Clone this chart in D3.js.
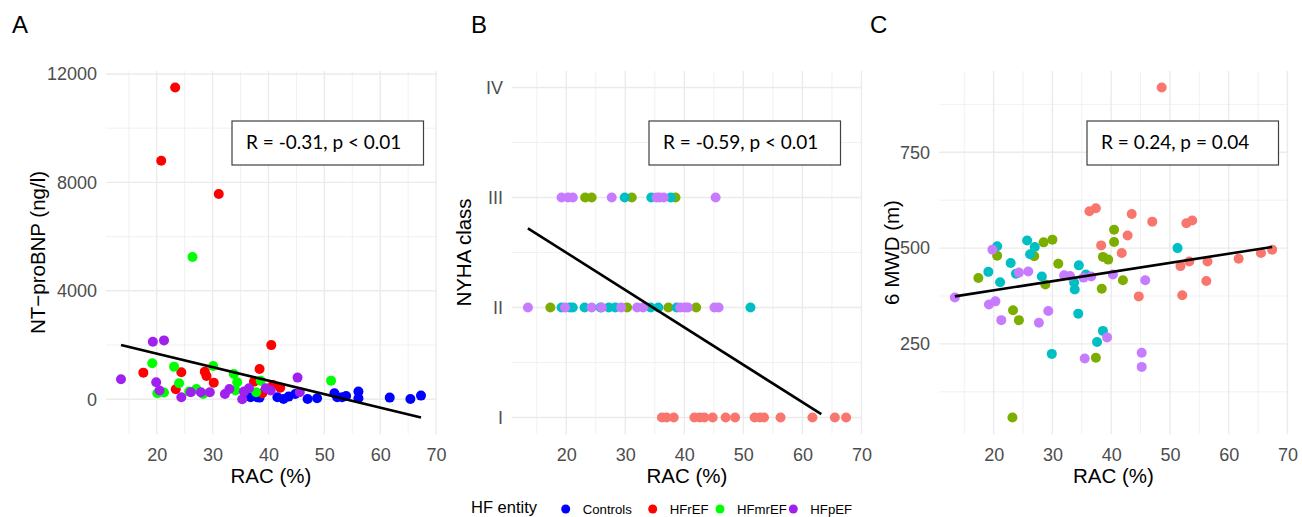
<!DOCTYPE html>
<html>
<head>
<meta charset="utf-8">
<script src="https://cdn.jsdelivr.net/npm/d3@7"></script>
<style>
  body { margin: 0; background: #fff; }
  svg { display: block; }
</style>
</head>
<body>
<div id="vis"></div>
<script>
// frame size
const WIDTH = 1302;
const HEIGHT = 517;

// legend / group names
const GROUPS = ["Controls", "HFrEF", "HFmrEF", "HFpEF"];
// colours of panel A (and the legend), ggplot hue colours in B and C
const COLORS_A = ["#0000FF", "#FF0000", "#00FF00", "#A020F0"];
const COLORS_BC = ["#F8766D", "#7CAE00", "#00BFC4", "#C77CFF"];

// ---- panel A: RAC (%) vs NT-proBNP (ng/l) ----
const aControls = [[36.8,74],[38.0,74],[38.4,61],[41.6,74],[42.7,12],[43.6,98],[44.8,196],[47.0,12],
  [48.7,37],[51.8,221],[52.3,74],[53.2,74],[53.9,123],[56.1,282],[56.1,37],[61.7,61],[65.4,12],[67.3,135]];
const aHFrEF = [[23.3,11500],[20.8,8800],[31.1,7570],[17.6,982],[24.4,994],[23.4,368],[28.6,1018],
  [28.9,859],[30.2,613],[37.4,650],[38.4,1116],[38.9,221],[40.5,1998],[40.8,527],[42.1,429]];
const aHFmrEF = [[26.4,5250],[19.2,1325],[20.1,221],[21.3,246],[23.1,1203],[24.0,589],[25.8,282],
  [27.1,380],[28.3,196],[30.1,1227],[33.8,932],[34.4,626],[34.1,320],[37.8,258],[38.6,687],[51.2,687]];
const aHFpEF = [[13.6,736],[19.3,2123],[21.3,2171],[19.9,626],[20.5,320],[24.4,74],[26.1,258],[27.9,258],
  [29.5,258],[32.2,196],[33.0,380],[35.3,0],[35.6,282],[36.5,405],[39.5,405],[40.4,320],[45.2,798],[45.6,258]];
const fitA = [[13.6, 2000], [67.3, -673]];

// ---- panel B: RAC (%) vs NYHA class (1..4) ----
const bControls = [[36.2,1],[37.0,1],[38.2,1],[41.7,1],[42.6,1],[43.4,1],[44.8,1],[47.0,1],[48.6,1],
  [51.9,1],[52.8,1],[53.5,1],[56.3,1],[61.7,1],[65.5,1],[67.4,1]];
const bHFrEF = [[23.2,3],[24.3,3],[31.1,3],[38.5,3],[17.3,2],[30.3,2],[37.3,2],[42.0,2]];
const bHFmrEF = [[29.9,3],[34.4,3],[37.7,3],[19.2,2],[20.6,2],[21.1,2],[23.1,2],[25.8,2],[27.2,2],
  [28.3,2],[34.3,2],[35.6,2],[38.7,2],[51.2,2]];
const bHFpEF = [[19.2,3],[20.3,3],[21.1,3],[27.7,3],[35.3,3],[35.8,3],[36.5,3],[45.3,3],[13.5,2],[19.8,2],
  [24.3,2],[26.0,2],[29.3,2],[32.0,2],[33.0,2],[39.3,2],[40.1,2],[40.6,2],[45.1,2],[45.8,2]];
const fitB = [[13.5, 2.72], [63.2, 1.03]];

// ---- panel C: RAC (%) vs 6 MWD (m) ----
const cControls = [[48.6,919],[36.3,596],[37.4,604],[43.5,589],[47.0,569],[52.8,565],[53.8,572],[42.8,533],
  [38.3,507],[41.8,487],[51.8,453],[53.3,465],[56.4,465],[61.7,472],[65.5,487],[67.4,496],[56.2,414],
  [52.1,377],[44.7,374]];
const cHFrEF = [[17.4,422],[20.6,480],[28.5,515],[30.0,522],[26.9,479],[31.0,459],[28.8,405],[40.5,548],
  [40.5,516],[38.6,477],[39.5,470],[42.0,416],[38.4,394],[23.3,338],[24.3,312],[37.4,214],[23.2,58]];
const cHFmrEF = [[20.6,505],[19.1,438],[21.1,411],[22.9,461],[23.8,433],[25.7,520],[27.0,503],[26.2,484],
  [28.2,426],[34.5,455],[35.7,431],[33.7,410],[33.8,392],[34.4,329],[38.6,284],[37.6,255],[29.9,224],[51.3,500]];
const cHFpEF = [[13.4,371],[19.8,496],[19.2,353],[20.3,361],[21.3,312],[24.3,436],[25.9,439],[27.7,305],
  [29.3,336],[32.0,429],[33.0,427],[35.3,423],[36.6,426],[40.3,431],[45.8,416],[39.3,267],[35.5,212],
  [45.2,227],[45.2,190]];
const fitC = [[13.4, 374], [67.4, 503]];

// tick values
const X_TICKS = [20, 30, 40, 50, 60, 70];
const X_MINOR = [15, 25, 35, 45, 55, 65];
const A_TICKS = [0, 4000, 8000, 12000];
const A_MINOR = [2000, 6000, 10000];
const B_TICKS = [1, 2, 3, 4];
const B_LABELS = ["I", "II", "III", "IV"];
const B_MINOR = [1.5, 2.5, 3.5];
const C_TICKS = [250, 500, 750];
const C_MINOR = [125, 375, 625, 875];

const FONT = "'Liberation Sans', Arial, Helvetica, sans-serif";

const svg = d3.select("#vis")
  .append("svg")
    .attr("width", WIDTH)
    .attr("height", HEIGHT);

svg.append("rect").attr("width", WIDTH).attr("height", HEIGHT).attr("fill", "#fff");

// ggplot style: pad the data range by 5% on each side
function expand(vals) {
  const e = d3.extent(vals);
  const pad = (e[1] - e[0]) * 0.05;
  return [e[0] - pad, e[1] + pad];
}

function drawPanel(p) {
  const all = p.series.flat().concat(p.fit);
  const X = d3.scaleLinear().domain(expand(all.map(d => d[0]))).range([p.left, p.right]);
  const Y = d3.scaleLinear().domain(p.yDomain || expand(all.map(d => d[1]))).range([p.bottom, p.top]);

  const g = svg.append("g");

  // minor grid first, then major
  g.selectAll(".vmin").data(X_MINOR.filter(v => X(v) >= p.left && X(v) <= p.right)).enter()
    .append("line").attr("x1", d => X(d)).attr("x2", d => X(d))
    .attr("y1", p.top).attr("y2", p.bottom)
    .attr("stroke", "#EBEBEB").attr("stroke-width", 0.7);
  g.selectAll(".hmin").data(p.yMinor).enter()
    .append("line").attr("y1", d => Y(d)).attr("y2", d => Y(d))
    .attr("x1", p.left).attr("x2", p.right)
    .attr("stroke", "#EBEBEB").attr("stroke-width", 0.7);
  g.selectAll(".vmaj").data(X_TICKS).enter()
    .append("line").attr("x1", d => X(d)).attr("x2", d => X(d))
    .attr("y1", p.top).attr("y2", p.bottom)
    .attr("stroke", "#EBEBEB").attr("stroke-width", 1.4);
  g.selectAll(".hmaj").data(p.yTicks).enter()
    .append("line").attr("y1", d => Y(d)).attr("y2", d => Y(d))
    .attr("x1", p.left).attr("x2", p.right)
    .attr("stroke", "#EBEBEB").attr("stroke-width", 1.4);

  // axes
  const xa = g.append("g")
    .attr("transform", "translate(0," + p.bottom + ")")
    .call(d3.axisBottom(X).tickValues(X_TICKS).tickSize(0).tickPadding(14));
  const ya = g.append("g")
    .attr("transform", "translate(" + p.left + ",0)")
    .call(d3.axisLeft(Y).tickValues(p.yTicks).tickSize(0).tickPadding(9)
      .tickFormat(p.yFormat || (d => d)));
  [xa, ya].forEach(a => {
    a.select(".domain").remove();
    a.selectAll("text").attr("font-family", FONT).attr("font-size", "18px").attr("fill", "#4D4D4D");
  });

  // points
  p.series.forEach((s, i) => {
    g.selectAll(".pt" + i).data(s).enter()
      .append("circle")
        .attr("cx", d => X(d[0]))
        .attr("cy", d => Y(d[1]))
        .attr("r", 5)
        .attr("fill", p.colors[i]);
  });

  // regression line
  g.append("path")
    .datum(p.fit)
    .attr("d", d3.line().x(d => X(d[0])).y(d => Y(d[1])))
    .attr("stroke", "#000").attr("stroke-width", 2.6).attr("fill", "none");

  // axis titles
  g.append("text")
    .attr("x", (p.left + p.right) / 2).attr("y", 483)
    .attr("text-anchor", "middle")
    .attr("font-family", FONT).attr("font-size", "20.5px")
    .text("RAC (%)");
  g.append("text")
    .attr("transform", "translate(" + p.yTitleX + "," + (p.top + p.bottom) / 2 + ") rotate(-90)")
    .attr("text-anchor", "middle")
    .attr("font-family", FONT).attr("font-size", "20.5px")
    .text(p.yTitle);

  // panel letter
  svg.append("text")
    .attr("x", p.letterX).attr("y", 33)
    .attr("font-family", FONT).attr("font-size", "24px")
    .text(p.letter);

  // correlation box
  g.append("rect")
    .attr("x", p.boxX).attr("y", 121)
    .attr("width", 191.5).attr("height", 44)
    .attr("fill", "#fff").attr("stroke", "#404040").attr("stroke-width", 1.2);
  g.append("text")
    .attr("x", p.boxX + 14).attr("y", 149)
    .attr("font-family", "Lato, 'Open Sans', sans-serif").attr("font-size", "19px")
    .attr("fill", "#000")
    .text(p.stat);
}

drawPanel({
  left: 106, right: 436, top: 71, bottom: 434,
  series: [aControls, aHFrEF, aHFmrEF, aHFpEF], fit: fitA, colors: COLORS_A,
  yTicks: A_TICKS, yMinor: A_MINOR,
  yTitle: "NT\u2212proBNP (ng/l)", yTitleX: 45,
  letter: "A", letterX: 12, boxX: 232, stat: "R = -0.31, p < 0.01"
});

drawPanel({
  left: 512, right: 862, top: 71, bottom: 434,
  series: [bControls, bHFrEF, bHFmrEF, bHFpEF], fit: fitB, colors: COLORS_BC,
  yTicks: B_TICKS, yMinor: B_MINOR, yDomain: [0.85, 4.15],
  yFormat: d => B_LABELS[d - 1],
  yTitle: "NYHA class", yTitleX: 471,
  letter: "B", letterX: 471, boxX: 649, stat: "R = -0.59, p < 0.01"
});

drawPanel({
  left: 939, right: 1288, top: 71, bottom: 434,
  series: [cControls, cHFrEF, cHFmrEF, cHFpEF], fit: fitC, colors: COLORS_BC,
  yTicks: C_TICKS, yMinor: C_MINOR,
  yTitle: "6 MWD (m)", yTitleX: 899,
  letter: "C", letterX: 870, boxX: 1087, stat: "R = 0.24, p = 0.04"
});

// legend (shared, bottom)
const LEG_DOT_X = [565.7, 652.7, 720, 793.3];
const legend = svg.append("g");
legend.append("text")
  .attr("x", 471).attr("y", 513)
  .attr("font-family", FONT).attr("font-size", "16.5px")
  .text("HF entity");
GROUPS.forEach((name, i) => {
  legend.append("circle")
    .attr("cx", LEG_DOT_X[i]).attr("cy", 509).attr("r", 4.5)
    .attr("fill", COLORS_A[i]);
  legend.append("text")
    .attr("x", LEG_DOT_X[i] + 17).attr("y", 513.5)
    .attr("font-family", FONT).attr("font-size", "13.2px")
    .text(name);
});
</script>
</body>
</html>
